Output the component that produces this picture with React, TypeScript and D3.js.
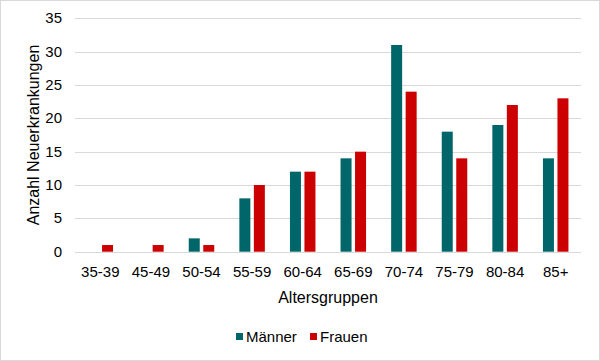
import { useRef, useEffect } from 'react'
import * as d3 from 'd3'

const groups = ['35-39', '45-49', '50-54', '55-59', '60-64', '65-69', '70-74', '75-79', '80-84', '85+']
const maenner = [0, 0, 2, 8, 12, 14, 31, 18, 19, 14]
const frauen = [1, 1, 1, 10, 12, 15, 24, 14, 22, 23]
const yTicks = [0, 5, 10, 15, 20, 25, 30, 35]
const seriesNames = ['Männer', 'Frauen']
const seriesColors = ['#00666a', '#cc0000']

const App: React.FC = () => {
  const chartRef = useRef<SVGSVGElement>(null)

  useEffect(() => {
    if (!chartRef.current) return

    const width = 600
    const height = 361
    const font = 'Liberation Sans, Arial, sans-serif'

    const svg = d3.select(chartRef.current)
    svg.selectAll('*').remove()
    svg.attr('width', width).attr('height', height)

    svg
      .append('rect')
      .attr('x', 0.5)
      .attr('y', 0.5)
      .attr('width', width - 1)
      .attr('height', height - 1)
      .attr('fill', '#fff')
      .attr('stroke', '#d9d9d9')

    const x = d3.scaleBand().domain(groups).range([75, 581])
    const y = d3.scaleLinear().domain([0, 35]).range([251.7, 18.3])

    const barW = 11
    const gap = 3.5

    svg
      .append('g')
      .selectAll('line')
      .data(yTicks)
      .enter()
      .append('line')
      .attr('x1', 75)
      .attr('x2', 581)
      .attr('y1', (d) => Math.round(y(d)) + 0.5)
      .attr('y2', (d) => Math.round(y(d)) + 0.5)
      .attr('stroke', '#d9d9d9')
      .attr('stroke-width', 1)

    svg
      .append('g')
      .selectAll('text')
      .data(yTicks)
      .enter()
      .append('text')
      .attr('x', 62)
      .attr('y', (d) => y(d) + 5)
      .attr('text-anchor', 'end')
      .attr('font-family', font)
      .attr('font-size', 15)
      .attr('fill', '#000')
      .text((d) => d)

    const series = [maenner, frauen]
    series.forEach((vals, si) => {
      svg
        .append('g')
        .selectAll('rect')
        .data(vals)
        .enter()
        .append('rect')
        .attr('x', (_, i) => {
          const c = (x(groups[i]) ?? 0) + x.bandwidth() / 2
          return si === 0 ? c - gap / 2 - barW : c + gap / 2
        })
        .attr('y', (d) => y(d))
        .attr('width', barW)
        .attr('height', (d) => y(0) - y(d))
        .attr('fill', seriesColors[si])
    })

    svg
      .append('g')
      .selectAll('text')
      .data(groups)
      .enter()
      .append('text')
      .attr('x', (d) => (x(d) ?? 0) + x.bandwidth() / 2)
      .attr('y', 277)
      .attr('text-anchor', 'middle')
      .attr('font-family', font)
      .attr('font-size', 15)
      .attr('fill', '#000')
      .text((d) => d)

    svg
      .append('text')
      .attr('x', 328)
      .attr('y', 303)
      .attr('text-anchor', 'middle')
      .attr('font-family', font)
      .attr('font-size', 16)
      .attr('fill', '#000')
      .text('Altersgruppen')

    svg
      .append('text')
      .attr('transform', 'translate(39,135) rotate(-90)')
      .attr('text-anchor', 'middle')
      .attr('font-family', font)
      .attr('font-size', 16)
      .attr('fill', '#000')
      .text('Anzahl Neuerkrankungen')

    const legendX = [236, 310]
    seriesNames.forEach((name, i) => {
      svg
        .append('rect')
        .attr('x', legendX[i])
        .attr('y', 333)
        .attr('width', 7)
        .attr('height', 7)
        .attr('fill', seriesColors[i])
      svg
        .append('text')
        .attr('x', legendX[i] + 10)
        .attr('y', 342)
        .attr('font-family', font)
        .attr('font-size', 15)
        .attr('fill', '#000')
        .text(name)
    })
  }, [])

  return (
    <div>
      <svg ref={chartRef} style={{ position: 'absolute', left: 0, top: 0 }} />
    </div>
  )
}

export default App
